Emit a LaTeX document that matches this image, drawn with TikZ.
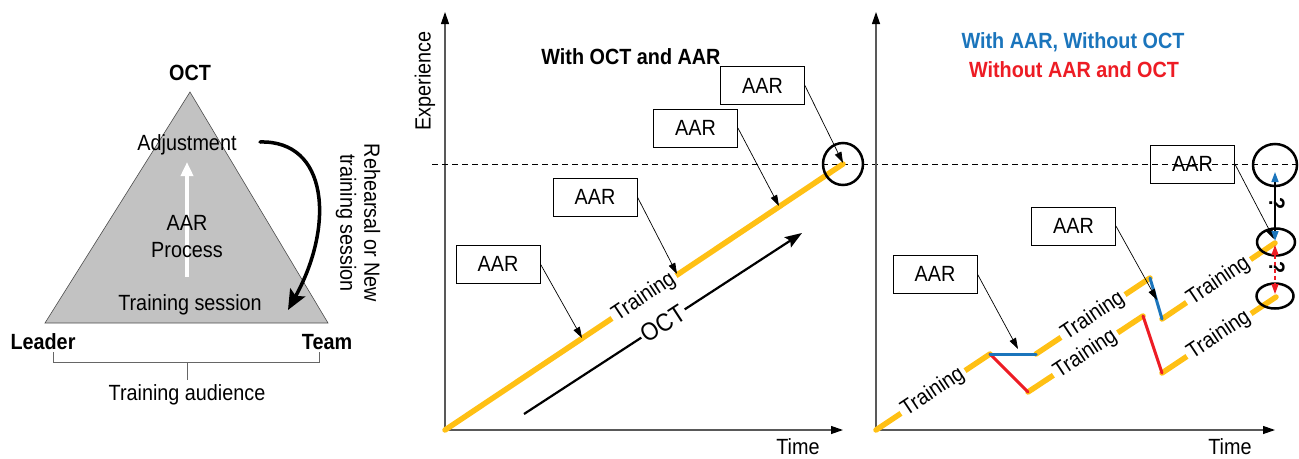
\documentclass[tikz,border=0pt]{standalone}
\usepackage{fontspec}
\setmainfont{Liberation Sans}[FakeStretch=0.9]
\usetikzlibrary{arrows.meta,shapes.geometric}
\definecolor{yel}{HTML}{FFC014}
\definecolor{myblue}{HTML}{1B75BC}
\definecolor{myred}{HTML}{ED1C24}
\definecolor{tri}{HTML}{C2C2C2}
\newcommand\myfs{\fontsize{22}{24}\selectfont}
\begin{document}
\begin{tikzpicture}[x=1pt,y=-1pt,
 txt/.style={font=\myfs, inner sep=0pt},
 btxt/.style={font=\myfs\bfseries, inner sep=0pt},
 aarbox/.style={draw, line width=0.8pt, minimum width=84pt, minimum height=38pt, inner sep=0pt, font=\myfs},
 ptr/.style={line width=0.7pt, -{Triangle[length=11pt,width=7pt]}},
 yl/.style={yel, line width=5.5pt, line cap=round},
 trl/.style={sloped, fill=white, inner xsep=3pt, inner ysep=1pt, font=\myfs, text=black},
 axis/.style={line width=1.2pt, color=black!65, -{Triangle[length=12pt,width=8pt,color=black]}},
 ring/.style={draw, ellipse, line width=2.5pt, inner sep=0pt},
 bl/.style={myblue, line width=3pt, line cap=round},
 rd/.style={myred, line width=3pt, line cap=round},
]
\useasboundingbox (0,0) rectangle (1299,458);

% ---------------- left panel ----------------
\coordinate (apex) at (190,92);
\coordinate (bl) at (45,323);
\coordinate (br) at (328,323);
\filldraw[fill=tri, draw=black!70, line width=0.6pt] (apex) -- (bl) -- (br) -- cycle;
\node[btxt] (oct) at (190,73) {OCT};
\coordinate (wa1) at (187,277);
\coordinate (wa2) at (187,162);
\draw[white, line width=3.5pt, -{Triangle[length=14pt,width=12pt]}] (wa1) -- (wa2);
\node[txt] (adj) at (187,145) {Adjustment};
\node[txt, align=center, font=\fontsize{22}{27}\selectfont] (aarp) at (187,237) {AAR\\Process};
\node[txt] (ts) at (190,305) {Training session};
\coordinate (ca1) at (260,142);
\coordinate (ca2) at (288,310);
\draw[line width=3.5pt, line cap=round, -{Stealth[length=20pt,width=17pt,inset=4pt]}] (ca1) .. controls (328,140) and (335,225) .. (ca2);
\node[txt, rotate=-90, align=center] (reh) at (358,223) {Rehearsal or New\\training session};
\node[btxt] (lead) at (43,342) {Leader};
\node[btxt] (team) at (327,342) {Team};
\coordinate (bk1) at (53,352);
\coordinate (bk2) at (319,362);
\coordinate (bk3) at (319,352);
\coordinate (bk4) at (187,362);
\coordinate (bk5) at (187,380);
\draw[black!60, line width=0.8pt] (bk1) |- (bk2) -- (bk3);
\draw[black!60, line width=0.8pt] (bk4) -- (bk5);
\node[txt] (aud) at (187,395) {Training audience};

% ---------------- middle panel ----------------
\coordinate (ya1) at (445,432);
\coordinate (ya2) at (445,12);
\coordinate (xa1) at (444,430);
\coordinate (xa2) at (843,430);
\draw[axis] (ya1) -- (ya2);
\draw[axis] (xa1) -- (xa2);
\node[txt, rotate=90] (exp) at (425,81) {Experience};
\node[txt] (time1) at (798,447) {Time};
\coordinate (d1) at (432,164);
\coordinate (d2) at (1299,164);
\draw[line width=0.8pt, dash pattern=on 6pt off 4pt] (d1) -- (d2);
\node[btxt] (title1) at (631,57) {With OCT and AAR};

\coordinate (o1) at (445,430);
\coordinate (e1) at (843,164);
\draw[yl] (o1) -- node[trl] {Training} (e1);
\coordinate (oa1) at (524,414);
\coordinate (oa2) at (802,233);
\draw[line width=2.2pt, -{Stealth[length=17pt,width=12pt,inset=3pt]}] (oa1) -- node[sloped, fill=white, inner sep=2pt, font=\fontsize{25}{28}\selectfont] {OCT} (oa2);

\node[aarbox] (b1) at (498,264) {AAR};
\node[aarbox] (b2) at (595,197) {AAR};
\node[aarbox] (b3) at (695.5,128) {AAR};
\node[aarbox] (b4) at (762.5,85.5) {AAR};
\coordinate (p1) at (582,338);
\coordinate (p2) at (677,274);
\coordinate (p3) at (779,206);
\coordinate (p4) at (843,163);
\draw[ptr] (b1.east) -- (p1);
\draw[ptr] (b2.east) -- (p2);
\draw[ptr] (b3.east) -- (p3);
\draw[ptr] (b4.east) -- (p4);
\node[ring, minimum width=40pt, minimum height=42pt] (c1) at (843,164) {};

% ---------------- right panel ----------------
\coordinate (yb1) at (876,432);
\coordinate (yb2) at (876,12);
\coordinate (xb1) at (875,430);
\coordinate (xb2) at (1275,430);
\draw[axis] (yb1) -- (yb2);
\draw[axis] (xb1) -- (xb2);
\node[txt] (time2) at (1230,447) {Time};
\node[btxt, text=myblue] (title2) at (1073,42) {With AAR, Without OCT};
\node[btxt, text=myred] (title3) at (1074,70) {Without AAR and OCT};

\coordinate (r0) at (876,430);
\coordinate (r1) at (990,354);
\coordinate (r2) at (1036,354);
\coordinate (r3) at (1150,278);
\coordinate (r4) at (1162,319);
\coordinate (r5) at (1275,243);
\coordinate (s2) at (1028,392);
\coordinate (s3) at (1143,316);
\coordinate (s4) at (1162,373);
\coordinate (s5) at (1276,297);
\draw[yl] (r0) -- node[trl] {Training} (r1);
\draw[yl] (r2) -- node[trl] {Training} (r3);
\draw[yl] (r4) -- node[trl] {Training} (r5);
\draw[yl] (s2) -- node[trl] {Training} (s3);
\draw[yl] (s4) -- node[trl] {Training} (s5);
\draw[rd] (r1) -- (s2);
\draw[rd] (s3) -- (s4);
\draw[bl] (r1) -- (r2);
\draw[bl] (r3) -- (r4);

\node[aarbox] (bA) at (935,274) {AAR};
\node[aarbox] (bB) at (1073.5,226) {AAR};
\node[aarbox] (bC) at (1192.5,164) {AAR};
\coordinate (qA) at (1018,349);
\coordinate (qB) at (1157,300);
\coordinate (qC) at (1274,239);
\draw[ptr] (bA.east) -- (qA);
\draw[ptr] (bB.east) -- (qB);
\draw[ptr] (bC.east) -- (qC);

\node[ring, minimum width=44pt, minimum height=42pt] (cR1) at (1275,165) {};
\node[ring, minimum width=38pt, minimum height=27pt] (cR2) at (1276,242) {};
\node[ring, minimum width=37pt, minimum height=25pt] (cR3) at (1275,296) {};

\coordinate (u1) at (1275,172);
\coordinate (u2) at (1275,241);
\coordinate (v1) at (1275,245);
\coordinate (v2) at (1275,294);
\draw[line width=1.5pt, {Triangle[length=10pt,width=7pt,color=myblue]}-{Triangle[length=10pt,width=7pt,color=myblue]}] (u1) -- (u2);
\draw[myred, line width=1.2pt, dash pattern=on 4pt off 3pt, {Triangle[length=10pt,width=7pt]}-{Triangle[length=10pt,width=7pt]}] (v1) -- (v2);
\node[btxt, rotate=-90] (q1) at (1277,204) {?};
\node[btxt, rotate=-90] (q2) at (1277,268) {?};
\end{tikzpicture}
\end{document}
